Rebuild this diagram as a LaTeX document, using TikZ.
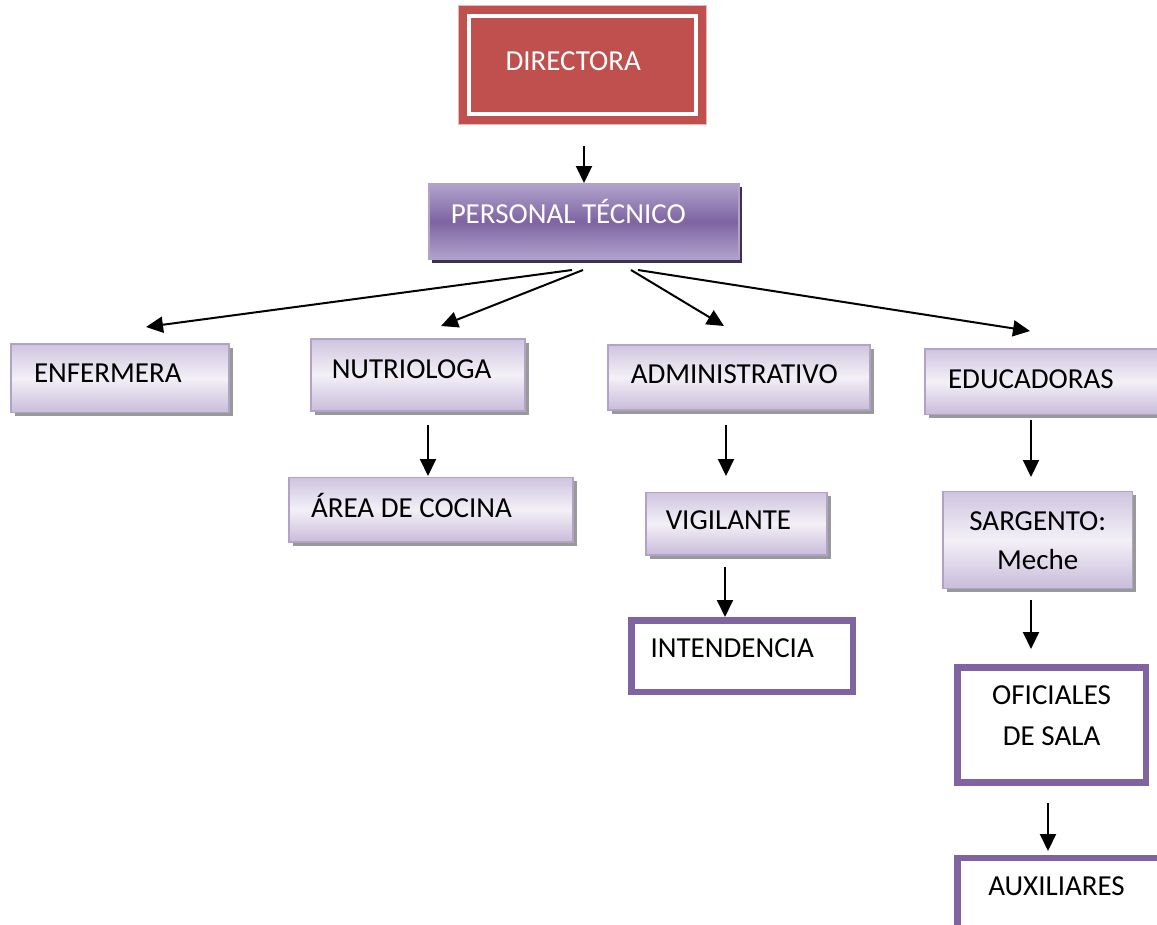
\documentclass[tikz,border=0pt]{standalone}
\usepackage{fontspec}
\setmainfont{Carlito}
\usetikzlibrary{arrows.meta,shadows}
\definecolor{dred}{HTML}{C0504D}
\definecolor{dredline}{HTML}{E6B9B8}
\definecolor{boxline}{HTML}{B3A2C7}
\definecolor{ltop}{HTML}{CFC4DF}
\definecolor{lmid}{HTML}{F3F0F7}
\definecolor{lbot}{HTML}{C9BCDA}
\definecolor{ptop}{HTML}{B1A3CD}
\definecolor{pmid}{HTML}{7E64A1}
\definecolor{pshadow}{HTML}{3F3151}
\definecolor{tpurple}{HTML}{8064A2}
\begin{document}
\begin{tikzpicture}[x=1pt,y=-1pt,
  font=\fontsize{29}{35}\selectfont,
  arr/.style={line width=2pt,-{Triangle[length=17pt,width=16pt]}},
  base/.style={anchor=north west,inner ysep=0pt,align=flush left},
  lbox/.style={base,draw=boxline,line width=1.5pt,top color=ltop,bottom color=lbot,middle color=lmid,
    drop shadow={shadow xshift=4pt,shadow yshift=-4pt,fill=black!40,opacity=1}},
  tbox/.style={base,draw=tpurple,line width=6.5pt,fill=white},
  tx/.style={text height=20pt,text depth=#1},
  dims/.style n args={4}{minimum width=#1,minimum height=#2,inner xsep=#3,text width=#4}
]
\useasboundingbox (0,0) rectangle (1157,924);

% DIRECTORA
\node[base,fill=dred,draw=dredline,line width=1pt,text=white,dims={248pt}{119pt}{47pt}{154pt},tx=8.3pt] (dir) at (458,5) {DIRECTORA};
\draw[white,line width=4.5pt] ([shift={(11,11)}]dir.north west) rectangle ([shift={(-11,-11)}]dir.south east);

% PERSONAL TECNICO
\node[base,draw=boxline,line width=1.5pt,top color=ptop,bottom color=ptop,middle color=pmid,text=white,
  drop shadow={shadow xshift=3pt,shadow yshift=-3.5pt,fill=pshadow,opacity=1},
  dims={310pt}{75.5pt}{22pt}{266pt},tx=15.7pt] (pt) at (428,183) {PERSONAL TÉCNICO};

% second level
\node[lbox,dims={218pt}{68.4pt}{23.3pt}{171.4pt},tx=11.3pt] (enf) at (10,343.3) {ENFERMERA};
\node[lbox,dims={214pt}{72pt}{21pt}{172pt},tx=13.3pt] (nut) at (310,338) {NUTRIOLOGA};
\node[lbox,dims={262pt}{65pt}{23pt}{216pt},tx=8.3pt] (adm) at (607,344) {ADMINISTRATIVO};
\node[lbox,dims={233pt}{65.5pt}{23.3pt}{186.4pt},tx=5.8pt] (edu) at (924,348) {EDUCADORAS};

% third level
\node[lbox,dims={284pt}{64.3pt}{22pt}{240pt},tx=4pt] (area) at (288.3,476.7) {ÁREA DE COCINA};
\node[lbox,dims={181pt}{62.3pt}{20pt}{141pt},tx=9pt] (vig) at (645,491.7) {VIGILANTE};
\node[lbox,align=flush center,font=\fontsize{29}{39.5}\selectfont,dims={189.4pt}{97pt}{14.7pt}{160pt},text height=18.7pt,text depth=38pt] (sarg) at (942.3,490.7) {SARGENTO:\\Meche};

% outlined boxes
\node[tbox,dims={221.25pt}{71.25pt}{19pt}{183.25pt},tx=17.1pt] (int) at (628.25,617.25) {INTENDENCIA};
\node[tbox,align=flush center,font=\fontsize{29}{41.5}\selectfont,dims={188.7pt}{115.4pt}{14.35pt}{160pt},text height=18.7pt,text depth=60.5pt] (ofi) at (954,664) {OFICIALES\\DE SALA};
\node[tbox,dims={211pt}{75pt}{31pt}{149pt},tx=19.3pt] (aux) at (954,854.5) {AUXILIARES};

% arrow end points
\coordinate (a0s) at (584,146);  \coordinate (a0e) at (584,183);
\coordinate (d1s) at (572,270);  \coordinate (d1e) at (146,327);
\coordinate (d2s) at (583,270);  \coordinate (d2e) at (441,326);
\coordinate (d3s) at (631,270);  \coordinate (d3e) at (724,326);
\coordinate (d4s) at (638,270);  \coordinate (d4e) at (1030,331);
\coordinate (n1s) at (428,425);  \coordinate (n1e) at (428,476);
\coordinate (v1s) at (726,425);  \coordinate (v1e) at (726,476);
\coordinate (v2s) at (725,567);  \coordinate (v2e) at (725,617);
\coordinate (e1s) at (1031,420); \coordinate (e1e) at (1031,477);
\coordinate (s1s) at (1031,600); \coordinate (s1e) at (1031,649);
\coordinate (o1s) at (1048,803); \coordinate (o1e) at (1048,851);

\draw[arr] (a0s) -- (a0e);
\draw[arr] (d1s) -- (d1e);
\draw[arr] (d2s) -- (d2e);
\draw[arr] (d3s) -- (d3e);
\draw[arr] (d4s) -- (d4e);
\draw[arr] (n1s) -- (n1e);
\draw[arr] (v1s) -- (v1e);
\draw[arr] (v2s) -- (v2e);
\draw[arr] (e1s) -- (e1e);
\draw[arr] (s1s) -- (s1e);
\draw[arr] (o1s) -- (o1e);
\end{tikzpicture}
\end{document}
